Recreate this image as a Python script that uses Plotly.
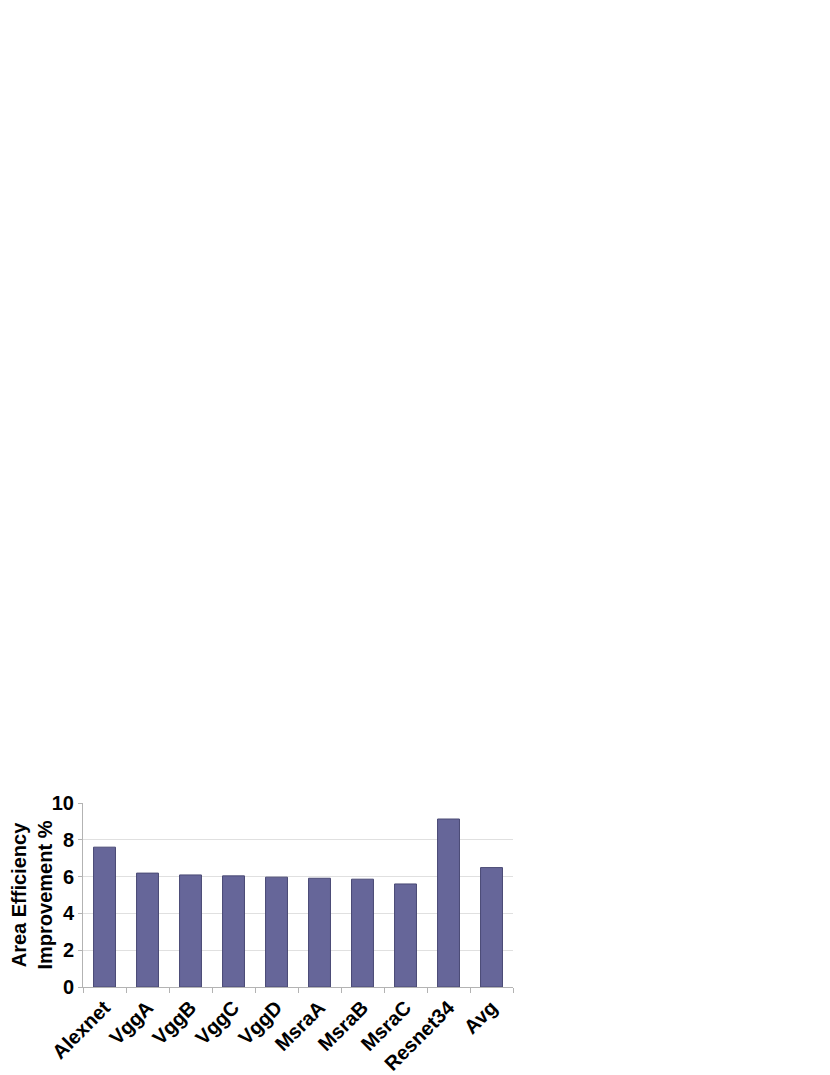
import plotly.graph_objects as go

# Networks and their area efficiency improvement (%)
networks = ['Alexnet', 'VggA', 'VggB', 'VggC', 'VggD', 'MsraA', 'MsraB', 'MsraC', 'Resnet34', 'Avg']
improvement = [7.6, 6.19, 6.09, 6.04, 5.97, 5.91, 5.86, 5.6, 9.13, 6.49]

font_family = 'Liberation Sans, Arial, sans-serif'

fig = go.Figure(go.Bar(x=networks, y=improvement,
                       marker=dict(color='#666699', line=dict(color='#4a4a75', width=1))))

# page body adds 8px margin, so figure is 822x1067
fig.update_layout(
    width=822, height=1067,
    margin=dict(l=75, r=317, t=795, b=88),
    plot_bgcolor='white', paper_bgcolor='white',
    bargap=0.49,
    showlegend=False,
    font=dict(family=font_family, size=20, color='black'),
)
fig.update_xaxes(tickangle=-45, automargin=False,
                 tickfont=dict(size=20, family=font_family, weight='bold'),
                 showline=True, linecolor='#b3b3b3', linewidth=1,
                 ticks='outside', tickson='boundaries', ticklen=5, tickcolor='#b3b3b3')
fig.update_yaxes(range=[0, 10], dtick=2, automargin=False,
                 tickfont=dict(size=20, family=font_family, weight='bold'),
                 showgrid=True, gridcolor='#e0e0e0', gridwidth=1,
                 showline=True, linecolor='#b3b3b3', linewidth=1,
                 ticks='outside', ticklen=4, tickcolor='#b3b3b3',
                 zeroline=False,
                 title=dict(text='<b>Area Efficiency<br>Improvement %</b>', font=dict(size=20), standoff=8))

fig.write_html("out.html")
